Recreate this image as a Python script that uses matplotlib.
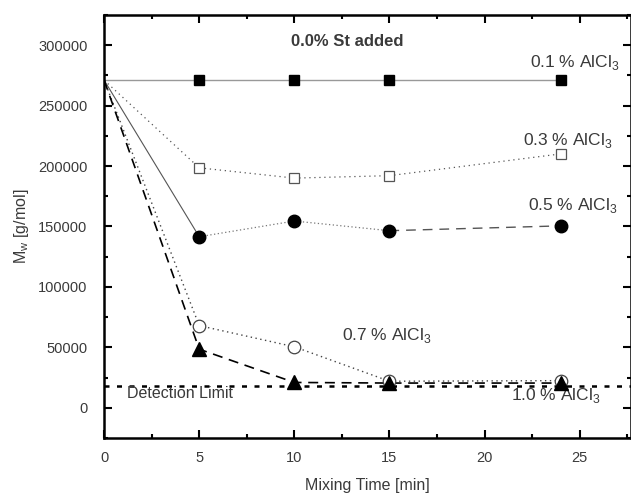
import matplotlib
matplotlib.use("Agg")
import matplotlib.pyplot as plt
from matplotlib.ticker import MultipleLocator

plt.rcParams['font.family'] = ['Liberation Sans', 'DejaVu Sans']
plt.rcParams['mathtext.fontset'] = 'custom'
plt.rcParams['mathtext.rm'] = 'Liberation Sans'

t = [0, 5, 10, 15, 24]
mw_01 = [271000, 271000, 271000, 271000, 271000]
mw_03 = [271000, 198500, 190000, 192000, 210000]
mw_05 = [271000, 141500, 154500, 146500, 150500]
mw_07 = [271000, 68000, 50500, 22000, 22500]
mw_10 = [271000, 48500, 21000, 20500, 20500]
detection_limit = 18000

labels = ["0.1 % AlCl$_\\mathregular{3}$", "0.3 % AlCl$_\\mathregular{3}$", "0.5 % AlCl$_\\mathregular{3}$",
          "0.7 % AlCl$_\\mathregular{3}$", "1.0 % AlCl$_\\mathregular{3}$"]

fig = plt.figure(figsize=(6.31, 4.95), dpi=100)
ax = fig.add_axes([0.165, 0.115, 0.835, 0.855])

# detection limit
ax.axhline(detection_limit, color="black", ls=(0, (2, 3)), lw=1.8, zorder=1)

# 0.1 %
ax.plot(t, mw_01, color="#999999", lw=1, zorder=2)
ax.plot(t[1:], mw_01[1:], "s", color="black", ms=7.5, zorder=3)
# 0.3 %
ax.plot(t, mw_03, color="#555555", lw=0.9, ls=(0, (1, 3)), zorder=2)
ax.plot(t[1:], mw_03[1:], "s", mfc="white", mec="#555555", ms=7.5, mew=0.9, zorder=3)
# 0.5 %
ax.plot(t[:2], mw_05[:2], color="#555555", lw=0.8, zorder=2)
ax.plot(t[1:4], mw_05[1:4], color="#777777", lw=0.9, ls=(0, (1, 2)), zorder=2)
ax.plot(t[3:], mw_05[3:], color="#555555", lw=1, ls=(0, (7, 5)), zorder=2)
ax.plot(t[1:], mw_05[1:], "o", color="black", ms=9, zorder=3)
# 0.7 %
ax.plot(t, mw_07, color="#444444", lw=1, ls=(0, (1, 2.5)), zorder=2)
ax.plot(t[1:], mw_07[1:], "o", mfc="white", mec="#444444", ms=9, mew=0.9, zorder=3)
# 1.0 %
ax.plot(t, mw_10, color="black", lw=1.2, ls=(0, (6, 4)), zorder=2)
ax.plot(t[1:], mw_10[1:], "^", color="black", ms=10, zorder=4)

tc = "#3a3a3a"
ax.text(12.8, 303000, "0.0% St added", ha="center", va="center", fontsize=12, fontweight="bold", color=tc)
ax.text(22.4, 286000, labels[0], fontsize=12.5, color=tc, va="center")
ax.text(22.0, 221000, labels[1], fontsize=12.5, color=tc, va="center")
ax.text(22.3, 167000, labels[2], fontsize=12.5, color=tc, va="center")
ax.text(12.5, 60000, labels[3], fontsize=12.5, color=tc, va="center")
ax.text(21.4, 10000, labels[4], fontsize=12.5, color=tc, va="center")
ax.text(1.2, 12000, "Detection Limit", fontsize=11.5, color=tc, va="center")

ax.set_xlim(0, 27.7)
ax.set_ylim(-25000, 325000)
ax.xaxis.set_major_locator(MultipleLocator(5))
ax.xaxis.set_minor_locator(MultipleLocator(2.5))
ax.yaxis.set_major_locator(MultipleLocator(50000))
ax.yaxis.set_minor_locator(MultipleLocator(25000))
ax.tick_params(which="both", direction="in", top=True, right=True, labelsize=10.5, labelcolor=tc, width=1.5)
ax.tick_params(which="major", length=6)
ax.tick_params(which="minor", length=3)
ax.tick_params(axis="x", pad=9)
ax.tick_params(axis="y", pad=12)
for s in ax.spines.values():
    s.set_linewidth(1.8)

ax.set_xlabel("Mixing Time [min]", fontsize=11.5, color=tc, labelpad=10)
ax.set_ylabel("M$_\\mathregular{w}$ [g/mol]", fontsize=11.5, color=tc, labelpad=5)

fig.savefig("out.png", dpi=100)
